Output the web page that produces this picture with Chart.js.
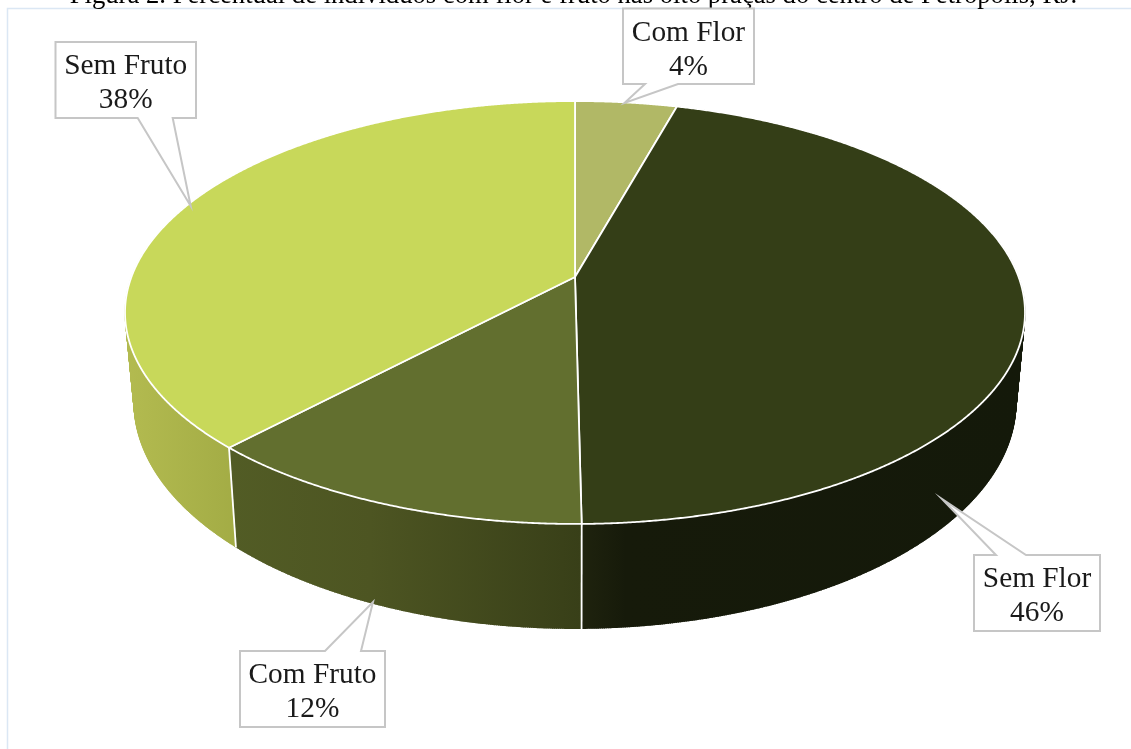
<!DOCTYPE html>
<html>
<head>
<meta charset="utf-8">
<title>Figura 2</title>
<script src="https://cdn.jsdelivr.net/npm/chart.js@4"></script>
<style>
    html, body { margin: 0; padding: 0; background: #fff; overflow: hidden; }
    #wrap { width: 1131px; height: 749px; }
</style>
</head>
<body>
<div id="wrap"><canvas id="pie"></canvas></div>
<script>
// Data
const titleText = 'Figura 2. Percentual de indivíduos com flor e fruto nas oito praças do centro de Petrópolis, RJ.';
const categories = ['Com Flor', 'Sem Flor', 'Com Fruto', 'Sem Fruto'];
const values = [4.3, 45.5, 12.2, 38];
const valueLabels = ['4%', '46%', '12%', '38%'];

// Colours
const faceColors = ['#b1b866', '#343e17', '#626f2f', '#c8d85a'];
const sideStops = [
    [[0, '#8f9650'], [1, '#8f9650']],
    [[0, '#1f230e'], [0.1, '#161a0a'], [1, '#14190a']],
    [[0, '#525c25'], [0.4, '#4d5522'], [1, '#383f18']],
    [[0, '#b3bb50'], [1, '#a3ac45']]
];

// Callout boxes: left, top, width, height, wedge start x, wedge end x, tip x, tip y
const calloutBoxes = [
    [623, 8.5, 131, 75.5, 645, 678, 624.5, 103],
    [974, 555, 126, 76, 996, 1026, 942, 499],
    [240, 651, 145, 76, 325, 361, 373, 602],
    [55.5, 42, 140.5, 76, 137.7, 172.7, 190.7, 206]
];

// Perspective of the disc
const pieShiftX = 1.5;
const radiusX = 443.6;
const radiusY = 205.5;
const tilt = -0.1678;
const rimCenterDrop = 35.5;   // top ellipse centre sits below the apex
const baseCenterDrop = 126;   // base ellipse centre
const baseScaleX = 0.98;
const baseScaleY = 1.0686;

function topPoint(el, angle) {
    const w = 1 + tilt * Math.sin(angle);
    return {
        x: el.x + pieShiftX + radiusX * Math.cos(angle) / w,
        y: el.y + radiusY * Math.sin(angle) / w
    };
}

function basePoint(el, angle) {
    const p = topPoint(el, angle);
    const cx = el.x + pieShiftX;
    return {
        x: cx + (p.x - cx) * baseScaleX,
        y: el.y + baseCenterDrop + (p.y - el.y - rimCenterDrop) * baseScaleY
    };
}

function sampleAngles(el) {
    const angles = [];
    const steps = Math.max(2, Math.ceil((el.endAngle - el.startAngle) / 0.004));
    for (let i = 0; i <= steps; i++) {
        angles.push(el.startAngle + (el.endAngle - el.startAngle) * i / steps);
    }
    return angles;
}

function drawSide(ctx, el, index) {
    const angles = sampleAngles(el);
    const top = angles.map(a => topPoint(el, a));
    const base = angles.map(a => basePoint(el, a));
    const xs = angles.filter(a => Math.sin(a) > 0).flatMap(a => [topPoint(el, a).x, basePoint(el, a).x]);
    const minX = xs.length ? Math.min(...xs) : 0;
    const maxX = xs.length ? Math.max(...xs) : 1;
    const gradient = ctx.createLinearGradient(minX, 0, maxX, 0);
    sideStops[index].forEach(stop => gradient.addColorStop(stop[0], stop[1]));

    ctx.beginPath();
    top.concat(base.slice().reverse()).forEach((p, i) => i ? ctx.lineTo(p.x, p.y) : ctx.moveTo(p.x, p.y));
    ctx.closePath();
    ctx.fillStyle = gradient;
    ctx.fill();

    // the rim and the base cross near the sides, so sweep the wall too
    ctx.beginPath();
    top.forEach((p, i) => {
        ctx.moveTo(p.x, p.y);
        ctx.lineTo(base[i].x, base[i].y);
    });
    ctx.strokeStyle = gradient;
    ctx.lineWidth = 1;
    ctx.stroke();
}

function drawSideEdge(ctx, el, angle) {
    if (Math.sin(angle) <= 0) return;
    const a = topPoint(el, angle);
    const b = basePoint(el, angle);
    ctx.beginPath();
    ctx.moveTo(a.x, a.y);
    ctx.lineTo(b.x, b.y);
    ctx.strokeStyle = '#ffffff';
    ctx.lineWidth = 1.8;
    ctx.stroke();
}

function drawFace(ctx, el, index) {
    ctx.beginPath();
    ctx.moveTo(el.x + pieShiftX, el.y);
    sampleAngles(el).forEach(a => {
        const p = topPoint(el, a);
        ctx.lineTo(p.x, p.y);
    });
    ctx.closePath();
    ctx.fillStyle = faceColors[index];
    ctx.fill();
    ctx.strokeStyle = '#ffffff';
    ctx.lineWidth = 1.8;
    ctx.lineJoin = 'round';
    ctx.stroke();
}

function drawCallout(ctx, box, name, valueLabel) {
    const [left, top, width, height, wedgeA, wedgeB, tipX, tipY] = box;
    const right = left + width;
    const bottom = top + height;
    ctx.beginPath();
    ctx.moveTo(left, top);
    if (tipY < top) {
        ctx.lineTo(wedgeA, top);
        ctx.lineTo(tipX, tipY);
        ctx.lineTo(wedgeB, top);
    }
    ctx.lineTo(right, top);
    ctx.lineTo(right, bottom);
    if (tipY > bottom) {
        ctx.lineTo(wedgeB, bottom);
        ctx.lineTo(tipX, tipY);
        ctx.lineTo(wedgeA, bottom);
    }
    ctx.lineTo(left, bottom);
    ctx.closePath();
    ctx.fillStyle = '#ffffff';
    ctx.fill();
    ctx.strokeStyle = '#c6c6c6';
    ctx.lineWidth = 2;
    ctx.lineJoin = 'miter';
    ctx.stroke();

    ctx.fillStyle = '#1a1a1a';
    ctx.font = '29.33px "Liberation Serif"';
    ctx.textAlign = 'center';
    ctx.textBaseline = 'alphabetic';
    const mid = left + width / 2;
    ctx.fillText(name, mid, top + 32);
    ctx.fillText(valueLabel, mid, top + 66);
}

// Draws the tilted pie from the arc elements the library laid out
const pie3d = {
    id: 'pie3d',
    beforeDraw(chart) {
        const ctx = chart.ctx;
        ctx.save();
        ctx.strokeStyle = '#dbe7f4';
        ctx.lineWidth = 1.5;
        ctx.beginPath();
        ctx.moveTo(7.5, 749);
        ctx.lineTo(7.5, 8.5);
        ctx.lineTo(1131, 8.5);
        ctx.stroke();
        ctx.restore();
    },
    beforeDatasetsDraw(chart) {
        const ctx = chart.ctx;
        const arcs = chart.getDatasetMeta(0).data;
        ctx.save();
        arcs.forEach((el, i) => drawSide(ctx, el, i));
        arcs.forEach(el => drawSideEdge(ctx, el, el.startAngle));
        arcs.forEach((el, i) => drawFace(ctx, el, i));
        arcs.forEach((el, i) => drawCallout(ctx, calloutBoxes[i], categories[i], valueLabels[i]));
        ctx.restore();
        return false;
    }
};

new Chart(document.getElementById('pie').getContext('2d'), {
    type: 'pie',
    data: {
        labels: categories,
        datasets: [{
            data: values,
            backgroundColor: faceColors,
            borderWidth: 0
        }]
    },
    options: {
        responsive: true,
        maintainAspectRatio: false,
        animation: false,
        layout: { padding: { left: 16, right: 0, top: 0, bottom: 227 } },
        plugins: {
            legend: { display: false },
            tooltip: { enabled: false },
            title: {
                display: true,
                text: titleText,
                color: '#000000',
                font: { family: '"Liberation Serif"', size: 26.67, weight: 'normal', lineHeight: 1.2 },
                padding: { top: -20.5, bottom: 20.5 }
            }
        }
    },
    plugins: [pie3d]
});
</script>
</body>
</html>
